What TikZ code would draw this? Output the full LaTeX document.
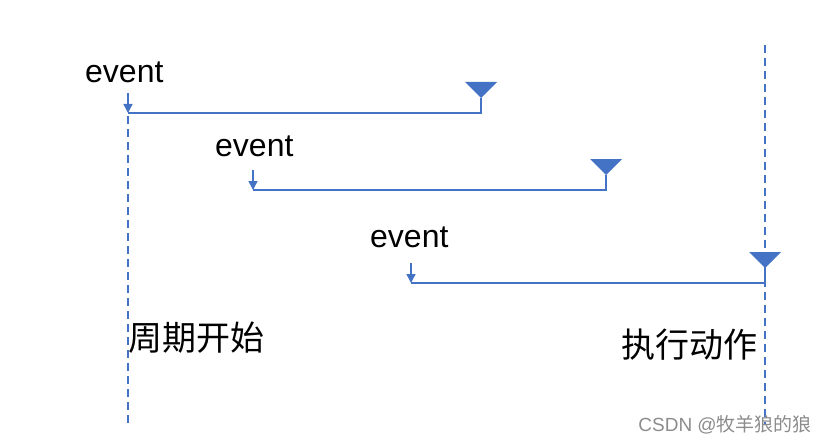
\documentclass[tikz,border=0pt]{standalone}
\usepackage{fontspec}
\setmainfont{Liberation Sans}
\newfontfamily\cjk{Noto Sans CJK SC}
\usetikzlibrary{arrows.meta}

\begin{document}
\begin{tikzpicture}[x=1pt,y=-1pt,
        periodo/.style={bblue,line width=1.5pt,dash pattern=on 8pt off 5pt},
        tramo/.style={bblue,line width=1.5pt},
        flecha/.style={bblue,line width=1.5pt,-{Triangle[length=9pt,width=9pt]}},
        etiqueta/.style={inner sep=0pt,font=\fontsize{32}{38}\selectfont}]
        %colores
        \definecolor{bblue}{HTML}{4472C4}
        \colorlet{marca}{black!45}

        \useasboundingbox (0,0) rectangle (828,444);

        % Lineas de inicio y de accion
        \coordinate (inicio arriba) at (128,116);
        \coordinate (inicio abajo) at (128,425);
        \coordinate (accion arriba) at (765,45);
        \coordinate (accion abajo) at (765,425);
        \draw[periodo] (inicio arriba) -- (inicio abajo);
        \draw[periodo] (accion arriba) -- (accion abajo);

        % Eventos: texto, flecha, tramo y disparo
        \foreach \n/\tx/\ty/\x/\y/\xe in {1/85/82/128/113/481, 2/215/157/253/190/606, 3/370/247/411/283/765}
        {
            \node[etiqueta,anchor=base west] (event\n) at (\tx,\ty) {event};
            \coordinate (flecha\n) at (\x,\y-20);
            \coordinate (origen\n) at (\x,\y);
            \coordinate (fin\n) at (\xe,\y);
            \coordinate (punta\n) at (\xe,\y-15);
            \draw[flecha] (flecha\n) -- (origen\n);
            \draw[tramo] (origen\n) -- (fin\n) -- (punta\n);
            \fill[bblue] (punta\n) -- ++(-16,-16) -- ++(32,0) -- cycle;
        }

        % Textos
        \node[anchor=west,inner sep=0pt,font=\cjk\fontsize{34}{40}\selectfont] (inicio) at (128,338) {周期开始};
        \node[anchor=east,inner sep=0pt,font=\cjk\fontsize{34}{40}\selectfont] (accion) at (758,345) {执行动作};
        \node[anchor=east,inner sep=0pt,text=marca,font=\fontsize{19}{22}\selectfont] (firma) at (812,425) {CSDN @{\cjk 牧羊狼的狼}};
\end{tikzpicture}
\end{document}
